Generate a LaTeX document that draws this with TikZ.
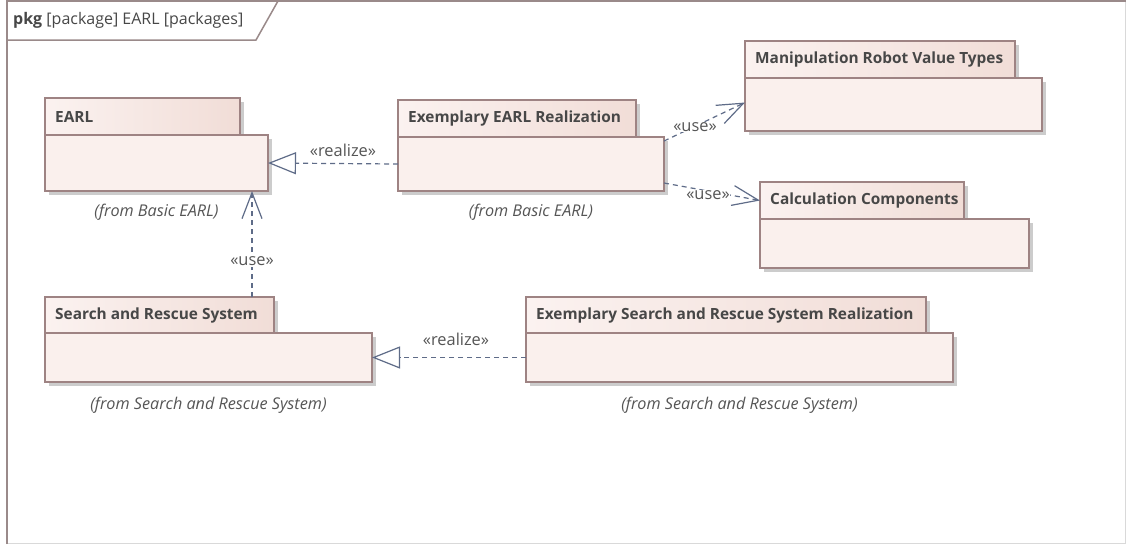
\documentclass[tikz,border=0pt]{standalone}
\usepackage{fontspec}
\setmainfont{Open Sans}
\usetikzlibrary{arrows.meta,shadows}

\definecolor{pkgline}{HTML}{9E8383}
\definecolor{tabL}{HTML}{FBF2F0}
\definecolor{tabR}{HTML}{F1DDD7}
\definecolor{bodyfill}{HTML}{FAF0ED}
\definecolor{conncol}{HTML}{5F6C88}
\definecolor{txtdark}{HTML}{474747}
\definecolor{txtgrey}{HTML}{555555}
\definecolor{frameline}{HTML}{9A8A8A}

\tikzset{
  boxshadow/.style={drop shadow={shadow xshift=4pt, shadow yshift=-4pt, fill=black!20, opacity=1}},
  tabbox/.style={draw=pkgline, line width=1.3pt, left color=tabL, right color=tabR,
    anchor=north west, inner sep=0pt, outer sep=0pt, boxshadow},
  bodybox/.style={draw=pkgline, line width=1.3pt, fill=bodyfill,
    anchor=north west, inner sep=0pt, outer sep=0pt, boxshadow},
  titletext/.style={anchor=west, inner sep=0pt, text=txtdark,
    font=\fontsize{15.4}{18}\selectfont\bfseries},
  fromtext/.style={inner sep=0pt, text=txtgrey, font=\fontsize{16.2}{19}\selectfont\itshape},
  lbltext/.style={inner sep=1pt, text=txtgrey, font=\fontsize{16.4}{19}\selectfont},
  conn/.style={draw=conncol, line width=1.2pt, dash pattern=on 5pt off 4pt},
  realizes/.style={conn, -{Triangle[length=28pt, width=22pt, fill=white, line width=1.2pt]}},
  uses/.style={conn, -{Straight Barb[length=26pt, width=20pt, line width=1.2pt]}},
}

% package box: name, x, y, tab width, tab height, body width, body height, title
\newcommand\pkgbox[8]{%
  \node[tabbox, minimum width=#4pt, minimum height=#5pt] (#1-tab) at (#2,#3) {};
  \node[titletext] (#1-title) at ([xshift=10pt]#1-tab.west) {#8};
  \node[bodybox, minimum width=#6pt, minimum height=#7pt] (#1) at (#1-tab.south west) {};
}

\begin{document}
\begin{tikzpicture}[x=1pt, y=-1pt]
\useasboundingbox (0,0) rectangle (1126,544);
\fill[white] (0,0) rectangle (1126,544);

% diagram frame and its name tab
\draw[black!15, line width=1pt] (1125.5,1) -- (1125.5,543.5) -- (7,543.5);
\draw[frameline, line width=2pt] (7,544) -- (7,1) -- (1126,1);
\draw[frameline, line width=1.5pt] (7,40) -- (256,40) -- (278,1);
\node[anchor=west, inner sep=0pt, text=txtdark, font=\fontsize{16}{19}\selectfont] (hdr) at (13,20)
  {\textbf{pkg} [package] EARL [packages]};

% packages
\pkgbox{earl}{45}{98}{195}{37}{223}{56}{EARL}
\pkgbox{exr}{398}{100}{238}{37}{266}{54}{Exemplary EARL Realization}
\pkgbox{manip}{745}{41}{270}{37}{297}{53}{Manipulation Robot Value Types}
\pkgbox{calc}{760}{182}{204}{37}{269}{49}{Calculation Components}
\pkgbox{sr}{45}{297}{229}{36}{327}{49}{Search and Rescue System}
\pkgbox{exsr}{526}{297}{400}{36}{427}{49}{Exemplary Search and Rescue System Realization}

% owner notes
\node[fromtext] (earl-from) at ([yshift=-21pt]earl.south) {(from Basic EARL)};
\node[fromtext] (exr-from) at ([yshift=-21pt]exr.south) {(from Basic EARL)};
\node[fromtext] (sr-from) at ([yshift=-23pt]sr.south) {(from Search and Rescue System)};
\node[fromtext] (exsr-from) at ([yshift=-23pt]exsr.south) {(from Search and Rescue System)};

% dependencies
\draw[realizes] (exr.west) -- (earl.east);
\node[lbltext] (l1) at (343,150) {«realize»};

\draw[realizes] (exsr.west) -- (sr.east);
\node[lbltext] (l2) at (456,339) {«realize»};

\draw[uses] ([xshift=207pt]sr-tab.north west) -- ([xshift=207pt]earl.south west);
\node[lbltext, fill=white] (l3) at (252,261) {«use»};

\draw[uses] ([yshift=-4pt]exr.north east) -- ([yshift=2pt]manip.west);
\node[lbltext, fill=white, inner sep=0pt] (l4) at (695,127) {«use»};

\draw[uses] ([yshift=8pt]exr.south east) -- (calc-tab.west);
\node[lbltext, fill=white, inner sep=0pt] (l5) at (708,195) {«use»};
\end{tikzpicture}
\end{document}
